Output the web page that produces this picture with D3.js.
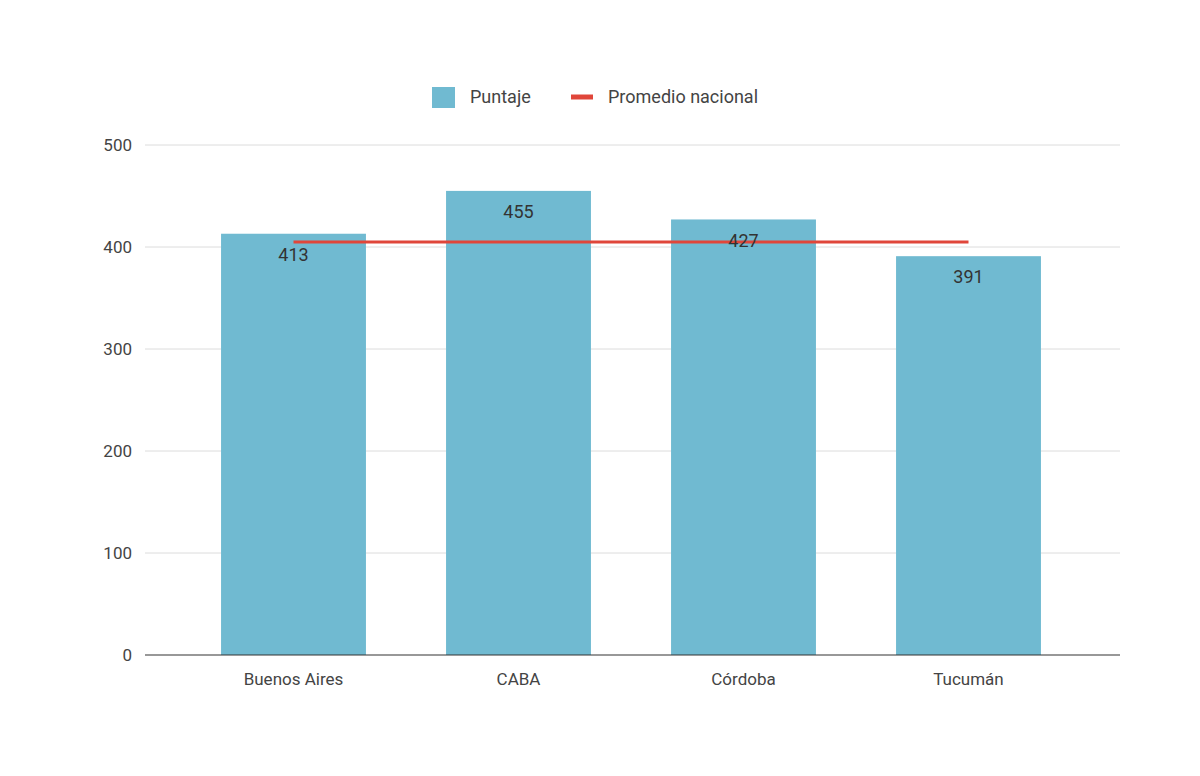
<!doctype html>
<html lang="en">
<head>
<meta charset="utf-8">
<title>Puntaje por provincia</title>
<style>
  body { margin: 0; background: #fff; }
  text { font-family: Roboto, "Liberation Sans", Arial, sans-serif; }
</style>
</head>
<body>
<svg id="chart" width="1200" height="776"></svg>
<script src="https://d3js.org/d3.v7.min.js"></script>
<script>
  const categories = ['Buenos Aires', 'CABA', 'Córdoba', 'Tucumán']
  const puntaje = [413, 455, 427, 391]
  const promedio = [405, 405, 405, 405]
  const yTicks = [0, 100, 200, 300, 400, 500]

  const svg = d3.select('#chart')
  const plotLeft = 145, plotRight = 1120, plotTop = 145, plotBottom = 655

  const x = d3.scaleBand().domain(categories).range([181, 1081]).paddingInner(0.356).paddingOuter(0.178)
  const y = d3.scaleLinear().domain([0, 500]).range([plotBottom, plotTop])

  // grid
  svg.append('g').selectAll('line').data(yTicks.slice(1)).join('line')
    .attr('x1', plotLeft).attr('x2', plotRight)
    .attr('y1', d => y(d)).attr('y2', d => y(d))
    .attr('stroke', '#dcdcdc').attr('stroke-width', 1)

  svg.append('g').selectAll('text').data(yTicks).join('text')
    .attr('x', 132).attr('y', d => y(d)).attr('dy', '0.35em')
    .attr('text-anchor', 'end').attr('font-size', 17).attr('fill', '#444')
    .text(d => d)

  // bars
  svg.append('g').selectAll('rect').data(puntaje).join('rect')
    .attr('x', (d, i) => x(categories[i]))
    .attr('width', x.bandwidth())
    .attr('y', d => y(d))
    .attr('height', d => plotBottom - y(d))
    .attr('fill', '#70bad1')

  // baseline
  svg.append('line').attr('x1', plotLeft).attr('x2', plotRight)
    .attr('y1', plotBottom).attr('y2', plotBottom).attr('stroke', '#333').attr('stroke-width', 1.2)

  // average line
  const line = d3.line()
    .x((d, i) => x(categories[i]) + x.bandwidth() / 2)
    .y(d => y(d))
  svg.append('path').datum(promedio).attr('d', line)
    .attr('fill', 'none').attr('stroke', '#e0463a').attr('stroke-width', 3)

  // value labels
  svg.append('g').selectAll('text').data(puntaje).join('text')
    .attr('x', (d, i) => x(categories[i]) + x.bandwidth() / 2)
    .attr('y', d => y(d) + 21).attr('dy', '0.35em')
    .attr('text-anchor', 'middle').attr('font-size', 18).attr('fill', '#333')
    .text(d => d)

  // x labels
  svg.append('g').selectAll('text').data(categories).join('text')
    .attr('x', d => x(d) + x.bandwidth() / 2).attr('y', 679).attr('dy', '0.35em')
    .attr('text-anchor', 'middle').attr('font-size', 17).attr('fill', '#444')
    .text(d => d)

  // legend
  const lg = svg.append('g')
  lg.append('rect').attr('x', 432).attr('y', 87).attr('width', 23).attr('height', 21).attr('fill', '#70bad1')
  lg.append('text').attr('x', 470).attr('y', 97).attr('dy', '0.35em').attr('font-size', 18).attr('fill', '#444').text('Puntaje')
  lg.append('line').attr('x1', 571).attr('x2', 593).attr('y1', 97).attr('y2', 97).attr('stroke', '#e0463a').attr('stroke-width', 5)
  lg.append('text').attr('x', 608).attr('y', 97).attr('dy', '0.35em').attr('font-size', 18).attr('fill', '#444').text('Promedio nacional')
</script>
</body>
</html>
